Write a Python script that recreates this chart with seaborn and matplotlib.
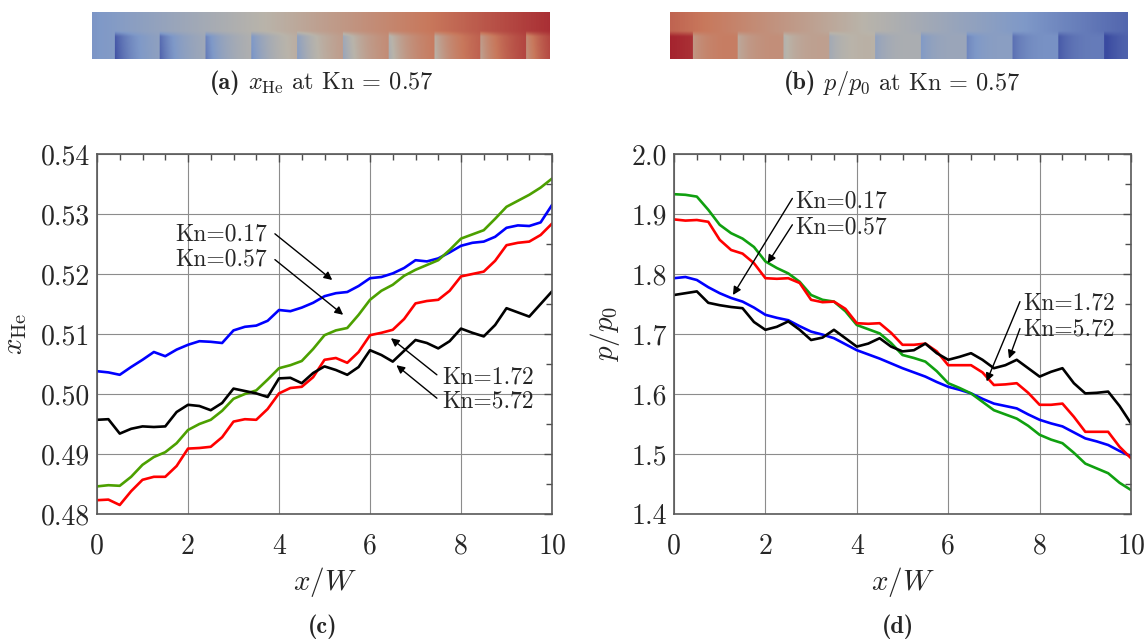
import numpy as np
import pandas as pd
import matplotlib
matplotlib.use("Agg")
import matplotlib.pyplot as plt
from matplotlib.colors import LinearSegmentedColormap
import seaborn as sns

# ---------------------------------------------------------------------------
# Data: centreline profiles along the channel, sampled every 0.25 W
# ---------------------------------------------------------------------------
x_w = np.arange(0, 10.01, 0.25)
kn_labels = ["Kn=0.17", "Kn=0.57", "Kn=1.72", "Kn=5.72"]
kn_colors = ["#0000ff", "#4ca000", "#ff0000", "#000000"]
kn_colors_p = ["#0000ff", "#10a010", "#ff0000", "#000000"]

# helium mole fraction x_He
xhe_017 = [0.5038, 0.5036, 0.5032, 0.5045, 0.5057, 0.5070, 0.5063, 0.5074, 0.5082, 0.5088,
           0.5087, 0.5085, 0.5106, 0.5112, 0.5114, 0.5122, 0.5140, 0.5138, 0.5144, 0.5152,
           0.5163, 0.5168, 0.5170, 0.5180, 0.5193, 0.5195, 0.5201, 0.5210, 0.5223, 0.5221,
           0.5226, 0.5236, 0.5247, 0.5252, 0.5254, 0.5262, 0.5277, 0.5281, 0.5280, 0.5286,
           0.5315]
xhe_057 = [0.4846, 0.4848, 0.4847, 0.4862, 0.4882, 0.4895, 0.4903, 0.4918, 0.4940, 0.4950,
           0.4957, 0.4972, 0.4992, 0.5000, 0.5006, 0.5024, 0.5043, 0.5048, 0.5055, 0.5075,
           0.5098, 0.5106, 0.5110, 0.5132, 0.5157, 0.5172, 0.5182, 0.5197, 0.5207, 0.5215,
           0.5223, 0.5240, 0.5259, 0.5266, 0.5273, 0.5292, 0.5312, 0.5322, 0.5332, 0.5344,
           0.5359]
xhe_172 = [0.4823, 0.4824, 0.4815, 0.4838, 0.4857, 0.4862, 0.4862, 0.4880, 0.4909, 0.4910,
           0.4912, 0.4928, 0.4954, 0.4958, 0.4957, 0.4975, 0.5001, 0.5010, 0.5012, 0.5028,
           0.5057, 0.5060, 0.5052, 0.5070, 0.5098, 0.5102, 0.5107, 0.5125, 0.5151, 0.5155,
           0.5157, 0.5172, 0.5196, 0.5200, 0.5204, 0.5222, 0.5248, 0.5252, 0.5254, 0.5265,
           0.5284]
xhe_572 = [0.4957, 0.4958, 0.4934, 0.4942, 0.4946, 0.4945, 0.4946, 0.4970, 0.4982, 0.4980,
           0.4973, 0.4985, 0.5009, 0.5005, 0.5001, 0.4995, 0.5026, 0.5027, 0.5018, 0.5035,
           0.5046, 0.5040, 0.5032, 0.5045, 0.5073, 0.5065, 0.5054, 0.5072, 0.5090, 0.5085,
           0.5076, 0.5088, 0.5109, 0.5102, 0.5096, 0.5115, 0.5143, 0.5136, 0.5129, 0.5150,
           0.5171]

# normalised pressure p/p0
p_017 = [1.793, 1.795, 1.790, 1.778, 1.768, 1.760, 1.754, 1.744, 1.732, 1.727,
         1.723, 1.713, 1.704, 1.699, 1.693, 1.683, 1.673, 1.666, 1.659, 1.651,
         1.643, 1.636, 1.629, 1.620, 1.612, 1.607, 1.601, 1.592, 1.584, 1.580,
         1.576, 1.566, 1.557, 1.551, 1.546, 1.536, 1.526, 1.521, 1.515, 1.505,
         1.496]
p_057 = [1.933, 1.932, 1.929, 1.907, 1.882, 1.868, 1.859, 1.845, 1.821, 1.810,
         1.801, 1.787, 1.765, 1.757, 1.754, 1.738, 1.715, 1.708, 1.701, 1.685,
         1.665, 1.660, 1.654, 1.638, 1.618, 1.610, 1.601, 1.587, 1.573, 1.566,
         1.559, 1.547, 1.532, 1.524, 1.518, 1.502, 1.484, 1.476, 1.468, 1.452,
         1.440]
p_172 = [1.891, 1.889, 1.890, 1.887, 1.857, 1.840, 1.834, 1.818, 1.793, 1.792,
         1.793, 1.785, 1.757, 1.753, 1.754, 1.742, 1.718, 1.717, 1.718, 1.702,
         1.682, 1.682, 1.684, 1.671, 1.648, 1.648, 1.648, 1.636, 1.615, 1.616,
         1.618, 1.602, 1.582, 1.582, 1.584, 1.562, 1.537, 1.537, 1.537, 1.512,
         1.493]
p_572 = [1.765, 1.768, 1.771, 1.752, 1.748, 1.745, 1.743, 1.720, 1.707, 1.712,
         1.721, 1.707, 1.690, 1.694, 1.707, 1.693, 1.679, 1.684, 1.693, 1.679,
         1.671, 1.673, 1.684, 1.668, 1.657, 1.662, 1.668, 1.657, 1.643, 1.648,
         1.657, 1.643, 1.629, 1.637, 1.643, 1.618, 1.601, 1.602, 1.604, 1.580,
         1.551]

xhe_ticks = [0.48, 0.49, 0.50, 0.51, 0.52, 0.53, 0.54]
p_ticks = [1.4, 1.5, 1.6, 1.7, 1.8, 1.9, 2.0]
x_ticks = [0, 2, 4, 6, 8, 10]


def long_frame(series):
    frames = [pd.DataFrame({"x": x_w, "y": vals, "case": lab})
              for lab, vals in zip(kn_labels, series)]
    return pd.concat(frames, ignore_index=True)


df_xhe = long_frame([xhe_017, xhe_057, xhe_172, xhe_572])
df_p = long_frame([p_017, p_057, p_172, p_572])

# ---------------------------------------------------------------------------
# Style
# ---------------------------------------------------------------------------
sns.set_style("white")
plt.rcParams["font.family"] = ["cmr10", "DejaVu Serif"]
plt.rcParams["mathtext.fontset"] = "cm"
plt.rcParams["axes.formatter.use_mathtext"] = True
plt.rcParams["axes.unicode_minus"] = False

W, H = 1145, 642
fig = plt.figure(figsize=(W / 100, H / 100), dpi=100)


def box(l, t, r, b):
    return [l / W, 1 - b / H, (r - l) / W, (b - t) / H]


ax_a = fig.add_axes(box(92, 12, 550, 59))
ax_b = fig.add_axes(box(670, 12, 1128, 59))
ax_c = fig.add_axes(box(97, 154, 552, 514))
ax_d = fig.add_axes(box(674, 154, 1131, 514))

# ---------------------------------------------------------------------------
# Channel field snapshots (ratchet channel, lower half split into blocks)
# ---------------------------------------------------------------------------
field_cmap = LinearSegmentedColormap.from_list(
    "muted_coolwarm",
    [(0.00, "#3a4aa0"), (0.25, "#7f99c8"), (0.50, "#b9b4aa"),
     (0.75, "#c8785c"), (1.00, "#9e1426")])

nx, ny = 460, 48
X = np.linspace(0, 10, nx)
Y = np.linspace(0, 1, ny)[:, None]
block_edges = np.arange(0.48, 10, 1.0)
idx = np.searchsorted(block_edges, X, side="right") - 1
has_edge = idx >= 0
dist = np.where(has_edge, X - block_edges[np.clip(idx, 0, None)], 0.0)
# weight of the step influence: full in the lower half, fading upward
w_low = np.clip((0.60 - Y) / 0.12, 0, 1)

# helium fraction: rising along the channel, depleted behind each step
base_a = 0.24 + 0.069 * X
dip_a = np.where(has_edge, 0.26 * np.exp(-dist / 0.40), 0.0)
field_a = base_a - w_low * dip_a * (1 - 0.25 * Y)

# pressure: falling along the channel, low right behind each step
base_b = 0.80 - 0.071 * X
rel_b = np.where(has_edge, 0.05 - 0.20 * np.exp(-dist / 0.45), 0.16)
field_b = base_b + w_low * rel_b

for ax, fld in ((ax_a, field_a), (ax_b, field_b)):
    ax.imshow(fld, cmap=field_cmap, vmin=0, vmax=1, origin="lower",
              extent=[0, 10, 0, 1], aspect="auto", interpolation="bilinear")
    ax.set_axis_off()

# sub-figure captions: bold tag followed by regular description
cap_fs = 17.5


def caption(x_tag_right, y, tag, rest=None):
    fig.text(x_tag_right / W, 1 - y / H, tag, ha="right", va="center",
             fontsize=cap_fs, family="cmb10")
    if rest:
        fig.text((x_tag_right + 7) / W, 1 - y / H, rest, ha="left",
                 va="center", fontsize=cap_fs)


caption(241, 83, "(a)", r"$x_{\rm He}$ at Kn = 0.57")
caption(816, 83, "(b)", r"$p/p_0$ at Kn = 0.57")
caption(338, 627, "(c)")
caption(914, 627, "(d)")

# ---------------------------------------------------------------------------
# Line panels
# ---------------------------------------------------------------------------
sns.lineplot(data=df_xhe, x="x", y="y", hue="case", palette=dict(zip(kn_labels, kn_colors)),
             linewidth=1.9, legend=False, ax=ax_c, estimator=None, sort=False)
sns.lineplot(data=df_p, x="x", y="y", hue="case", palette=dict(zip(kn_labels, kn_colors_p)),
             linewidth=1.9, legend=False, ax=ax_d, estimator=None, sort=False)


def frame(ax, yticks, fmt, minor_y):
    ax.set_xlim(0, 10)
    ax.set_ylim(yticks[0], yticks[-1])
    ax.set_xticks(x_ticks)
    ax.set_xticklabels([str(t) for t in x_ticks])
    ax.set_yticks(yticks)
    ax.set_yticklabels([fmt.format(t) for t in yticks])
    ax.set_xticks(np.arange(0, 10.01, 0.5), minor=True)
    ax.set_yticks(minor_y, minor=True)
    ax.tick_params(which="both", direction="in", top=True, right=True,
                   color="0.3", width=1.0, labelsize=20)
    ax.tick_params(which="major", length=6)
    ax.tick_params(which="minor", length=4.5)
    ax.tick_params(axis="y", pad=5)
    ax.tick_params(axis="x", pad=14)
    ax.grid(True, which="major", color="0.55", linewidth=0.8)
    ax.set_axisbelow(True)
    for s in ax.spines.values():
        s.set_color("0.35")
        s.set_linewidth(1.2)
    ax.set_xlabel(r"$x/W$", fontsize=21)


frame(ax_c, xhe_ticks, "{:.2f}", np.arange(0.48, 0.5401, 0.005))
frame(ax_d, p_ticks, "{:.1f}", np.arange(1.4, 2.001, 0.05))
ax_c.set_ylabel(r"$x_{\rm He}$", fontsize=21)
ax_d.set_ylabel(r"$p/p_0$", fontsize=21)
ax_c.yaxis.set_label_coords(-0.149, 0.5)
ax_d.yaxis.set_label_coords(-0.114, 0.5)
ax_c.xaxis.set_label_coords(0.5, -0.142)
ax_d.xaxis.set_label_coords(0.5, -0.142)

arrow = dict(arrowstyle="-|>", color="black", lw=1.0, mutation_scale=12,
             shrinkA=0, shrinkB=0)
ann_fs = 17

# x_He panel annotations
ax_c.annotate("", xy=(5.17, 0.5190), xytext=(3.91, 0.5267), arrowprops=arrow)
ax_c.annotate("", xy=(5.41, 0.5132), xytext=(3.91, 0.5224), arrowprops=arrow)
ax_c.text(3.74, 0.5266, kn_labels[0], ha="right", va="center", fontsize=ann_fs)
ax_c.text(3.74, 0.5224, kn_labels[1], ha="right", va="center", fontsize=ann_fs)
ax_c.annotate("", xy=(6.46, 0.5093), xytext=(7.47, 0.5032), arrowprops=arrow)
ax_c.annotate("", xy=(6.58, 0.5048), xytext=(7.47, 0.4993), arrowprops=arrow)
ax_c.text(7.58, 0.5028, kn_labels[2], ha="left", va="center", fontsize=ann_fs)
ax_c.text(7.58, 0.4988, kn_labels[3], ha="left", va="center", fontsize=ann_fs)

# pressure panel annotations
ax_d.annotate("", xy=(1.29, 1.765), xytext=(2.59, 1.926), arrowprops=arrow)
ax_d.annotate("", xy=(2.05, 1.818), xytext=(2.59, 1.882), arrowprops=arrow)
ax_d.text(2.66, 1.921, kn_labels[0], ha="left", va="center", fontsize=ann_fs)
ax_d.text(2.66, 1.878, kn_labels[1], ha="left", va="center", fontsize=ann_fs)
ax_d.annotate("", xy=(6.84, 1.621), xytext=(7.57, 1.754), arrowprops=arrow)
ax_d.annotate("", xy=(7.33, 1.659), xytext=(7.57, 1.709), arrowprops=arrow)
ax_d.text(7.64, 1.751, kn_labels[2], ha="left", va="center", fontsize=ann_fs)
ax_d.text(7.64, 1.707, kn_labels[3], ha="left", va="center", fontsize=ann_fs)

fig.savefig("out.png", dpi=100)
